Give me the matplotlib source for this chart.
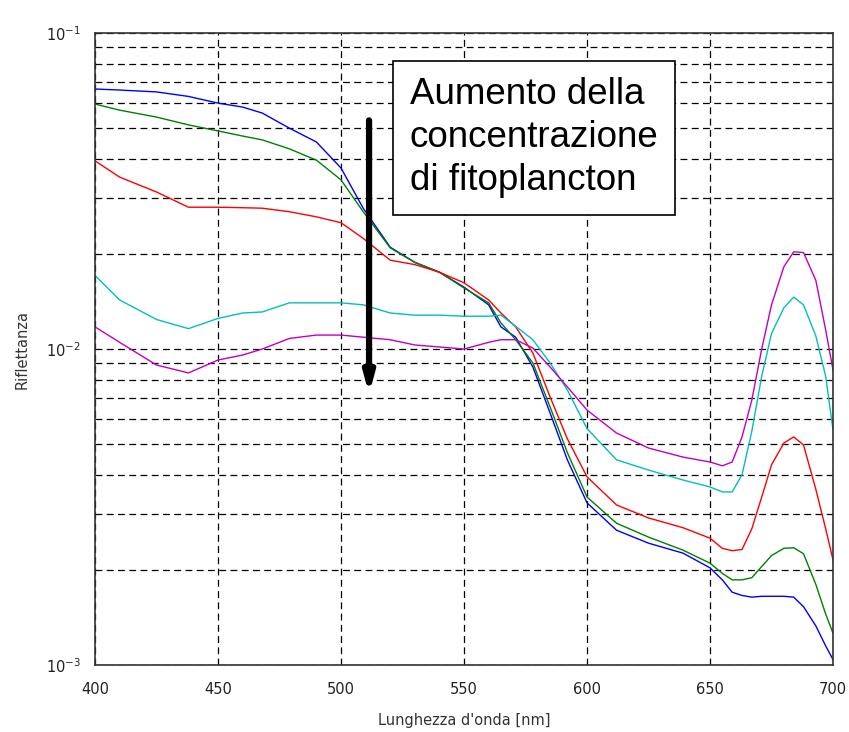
import matplotlib
matplotlib.use("Agg")
import matplotlib.pyplot as plt
from matplotlib.ticker import LogLocator, FixedLocator, NullFormatter

wavelength = [400, 410, 425, 438, 450, 460, 468, 479, 490, 500, 509, 520, 530, 540, 550, 560, 565, 571,
              578, 585, 592, 600, 612, 625, 639, 650, 655, 659, 663, 667, 671, 675, 680, 684, 688, 693, 697, 700]

blue = [0.0665, 0.0660, 0.0651, 0.0630, 0.0600, 0.0583, 0.0558, 0.0500, 0.0452, 0.0374, 0.0279, 0.0210,
        0.0188, 0.0175, 0.0157, 0.0138, 0.01175, 0.0109, 0.00877, 0.00627, 0.00446, 0.00326, 0.00267,
        0.00243, 0.00226, 0.00203, 0.00186, 0.00170, 0.00166, 0.00164, 0.00165, 0.00165, 0.00165,
        0.00164, 0.00153, 0.00133, 0.00115, 0.00104]

green = [0.0596, 0.0570, 0.0542, 0.0512, 0.0490, 0.0472, 0.0459, 0.0430, 0.0396, 0.0343, 0.0272, 0.0209,
         0.0188, 0.0175, 0.0156, 0.0140, 0.0121, 0.0107, 0.00903, 0.00655, 0.0047, 0.00340, 0.00281,
         0.00254, 0.00231, 0.00210, 0.00195, 0.00186, 0.00186, 0.00189, 0.00205, 0.00222, 0.00234,
         0.00235, 0.00225, 0.00180, 0.00145, 0.00126]

red = [0.0394, 0.0350, 0.0314, 0.0281, 0.0281, 0.0280, 0.0279, 0.0272, 0.0262, 0.0251, 0.0224, 0.0191,
       0.0185, 0.0175, 0.0162, 0.0143, 0.0130, 0.01175, 0.00971, 0.00705, 0.0052, 0.00394, 0.00321,
       0.00292, 0.00272, 0.00252, 0.00234, 0.00230, 0.00232, 0.00270, 0.00340, 0.00430, 0.00504,
       0.00527, 0.00497, 0.00360, 0.00270, 0.00215]

cyan = [0.0171, 0.0143, 0.0124, 0.0116, 0.0125, 0.0130, 0.0131, 0.0140, 0.0140, 0.0140, 0.0138, 0.0130,
        0.0128, 0.0128, 0.0127, 0.0127, 0.0128, 0.0118, 0.0107, 0.00903, 0.00742, 0.0056, 0.00446,
        0.00414, 0.00385, 0.00366, 0.00353, 0.00353, 0.0040, 0.0055, 0.0082, 0.0112, 0.0135,
        0.0146, 0.0138, 0.0110, 0.0082, 0.00554]

magenta = [0.01175, 0.0105, 0.0089, 0.0084, 0.00923, 0.00957, 0.0100, 0.0108, 0.01107, 0.01107, 0.0109,
           0.0107, 0.0103, 0.01015, 0.0100, 0.0105, 0.0107, 0.0107, 0.01007, 0.00877, 0.00759, 0.00641,
           0.00542, 0.00486, 0.00455, 0.00439, 0.00427, 0.00439, 0.00527, 0.0069, 0.0100, 0.0138,
           0.0182, 0.0203, 0.0202, 0.0165, 0.0115, 0.00858]

series = [(blue, "#0000ff"), (green, "#008000"), (red, "#ff0000"), (cyan, "#00bfbf"), (magenta, "#bf00bf")]

x_ticks = [400, 450, 500, 550, 600, 650, 700]
annotation = "Aumento della\nconcentrazione\ndi fitoplancton"
xlabel = "Lunghezza d'onda [nm]"
ylabel = "Riflettanza"

fig = plt.figure(figsize=(8.49, 7.32), dpi=100)
ax = fig.add_axes([0.1119, 0.0915, 0.9812 - 0.1119, 0.9549 - 0.0915])

for vals, col in series:
    ax.plot(wavelength, vals, color=col, lw=1.0)

ax.set_yscale("log")
ax.set_xlim(400, 700)
ax.set_ylim(1e-3, 1e-1)
ax.xaxis.set_major_locator(FixedLocator(x_ticks))
ax.yaxis.set_major_locator(LogLocator(base=10, numticks=10))
ax.yaxis.set_minor_locator(LogLocator(base=10, subs=range(2, 10), numticks=20))
ax.yaxis.set_minor_formatter(NullFormatter())

gridkw = dict(color="black", linestyle=(0, (5.5, 3.5)), linewidth=0.9)
ax.grid(True, which="major", axis="both", **gridkw)
ax.grid(True, which="minor", axis="y", **gridkw)
ax.set_axisbelow(True)

ax.tick_params(which="both", length=0, labelsize=10.5, colors="#222222")
ax.tick_params(axis="x", pad=12)
ax.tick_params(axis="y", pad=10)
for s in ax.spines.values():
    s.set_color("#333333")
    s.set_linewidth(1.2)

ax.set_xlabel(xlabel, fontsize=10.5, color="#333333", labelpad=12)
ax.set_ylabel(ylabel, fontsize=10.5, color="#333333", labelpad=12)

# annotation box
ax.text(0.4268, 0.93, annotation, transform=ax.transAxes, fontsize=26.5,
        family="Liberation Sans", va="top", ha="left", linespacing=1.3,
        bbox=dict(boxstyle="square,pad=0.45", facecolor="white", edgecolor="black", linewidth=1.2),
        zorder=5)

# arrow
ax.annotate("", xy=(511.4, 0.00705), xytext=(511.4, 0.0540),
            arrowprops=dict(arrowstyle="-|>,head_width=0.3,head_length=1.1", color="black", lw=4.5),
            zorder=6)

fig.savefig("out.png", dpi=100)
